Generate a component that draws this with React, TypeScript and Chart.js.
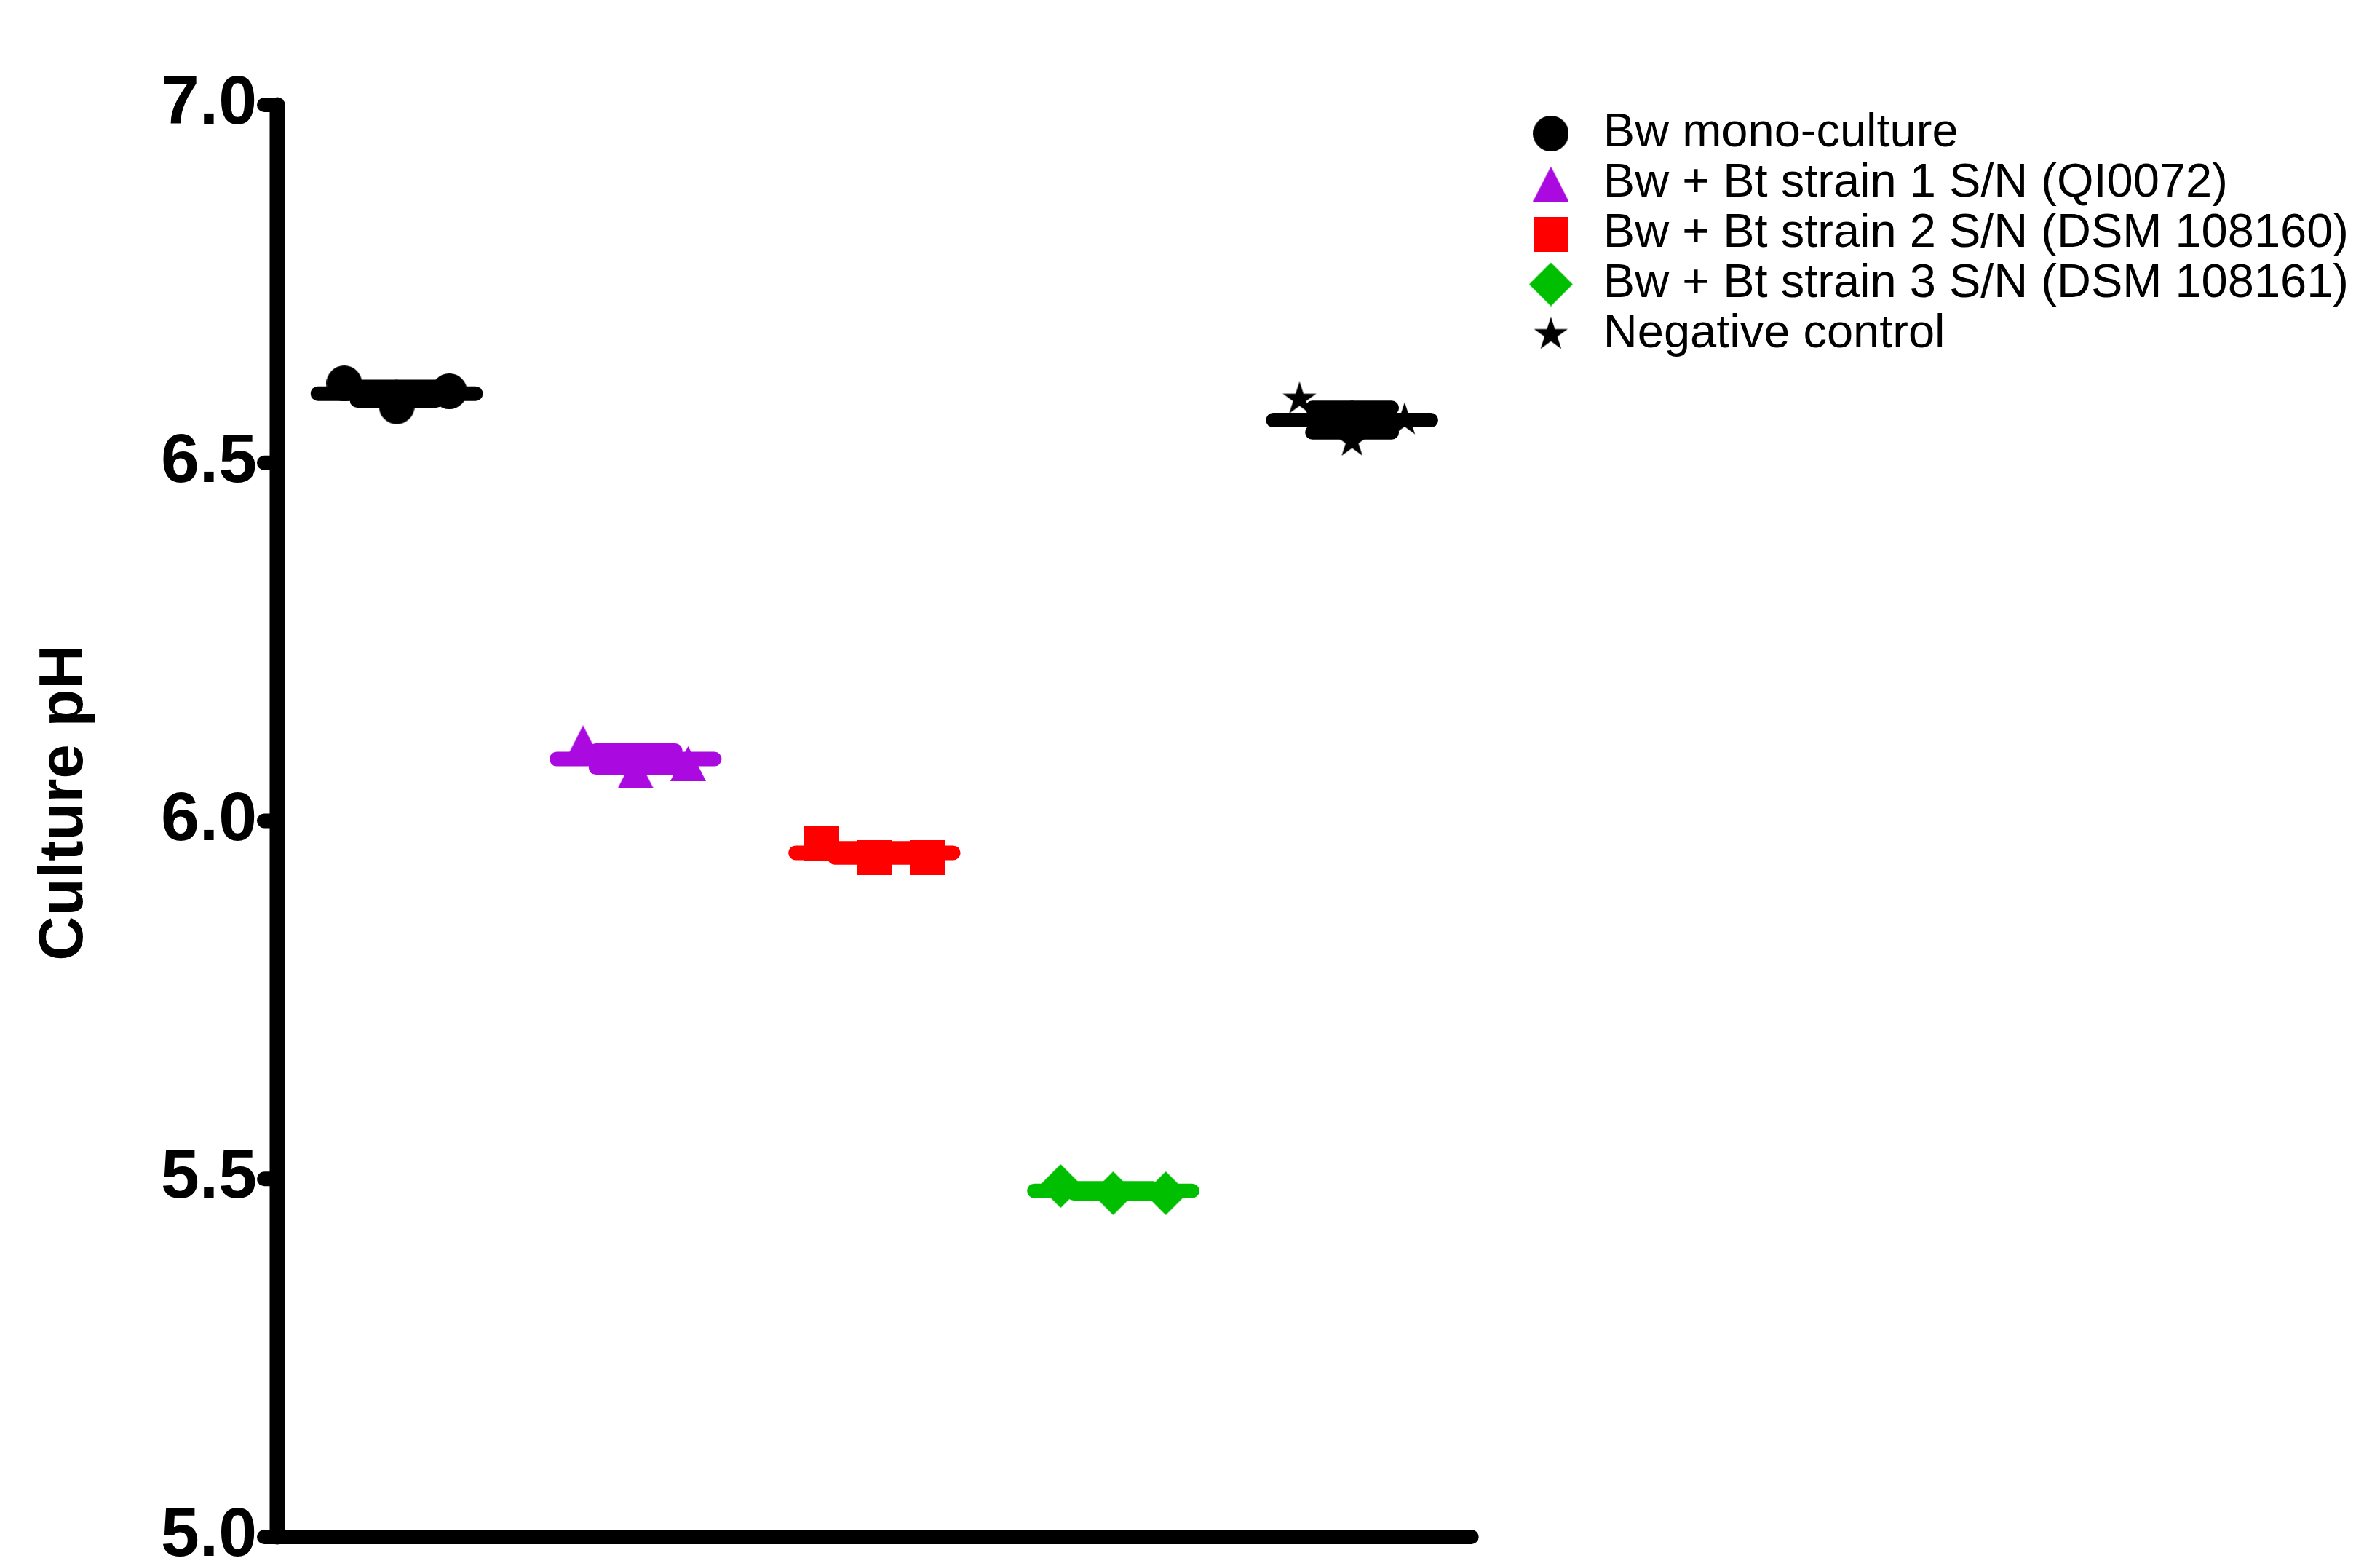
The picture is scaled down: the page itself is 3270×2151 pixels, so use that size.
import React, { useEffect, useRef } from 'react';
import { Chart, registerables } from 'chart.js';

Chart.register(...registerables);

// ---- data ----
const groupNames = [
  'Bw mono-culture',
  'Bw + Bt strain 1 S/N (QI0072)',
  'Bw + Bt strain 2 S/N (DSM 108160)',
  'Bw + Bt strain 3 S/N (DSM 108161)',
  'Negative control',
];
const groupX = [1, 2, 3, 4, 5];
const replicateOffsets = [-0.22, 0, 0.22];
const bwMono = [6.611, 6.579, 6.6];
const bwStrain1 = [6.109, 6.07, 6.08];
const bwStrain2 = [5.968, 5.949, 5.949];
const bwStrain3 = [5.49, 5.48, 5.48];
const negativeControl = [6.589, 6.53, 6.56];
const yTickValues = [5.0, 5.5, 6.0, 6.5, 7.0];
const yTickLabels = ['5.0', '5.5', '6.0', '6.5', '7.0'];
const yAxisTitle = 'Culture pH';

// ---- styles ----
const groupColors = ['#000000', '#AA0AE0', '#FF0000', '#00BF00', '#000000'];
const markerShapes = ['circle', 'triangle', 'square', 'diamond', 'star'];
const meanHalfWidth = 0.33;
const capHalfWidth = 0.166;
const xMin = 0.5;
const xMax = 5.7;
const xAxisEnd = 5.5;
const FONT = "'Liberation Sans', Arial, sans-serif";

function makeMarker(shape: string, color: string): HTMLCanvasElement {
  const c = document.createElement('canvas');
  let w = 49, h = 49;
  if (shape === 'triangle') { w = 49; h = 48; }
  if (shape === 'square') { w = 48; h = 48; }
  if (shape === 'diamond') { w = 60; h = 60; }
  if (shape === 'star') { w = 50; h = 50; }
  c.width = w; c.height = h;
  const ctx = c.getContext('2d')!;
  ctx.fillStyle = color;
  ctx.beginPath();
  if (shape === 'circle') {
    ctx.arc(w / 2, h / 2, 24.5, 0, Math.PI * 2);
  } else if (shape === 'triangle') {
    ctx.moveTo(w / 2, 0); ctx.lineTo(w, h); ctx.lineTo(0, h); ctx.closePath();
  } else if (shape === 'square') {
    ctx.rect(0, 0, w, h);
  } else if (shape === 'diamond') {
    ctx.moveTo(w / 2, 0); ctx.lineTo(w, h / 2); ctx.lineTo(w / 2, h); ctx.lineTo(0, h / 2); ctx.closePath();
  } else if (shape === 'star') {
    const R = 24.3, r = R * 0.382, cx = w / 2, cy = h / 2;
    for (let i = 0; i < 10; i++) {
      const rad = i % 2 === 0 ? R : r;
      const a = -Math.PI / 2 + (i * Math.PI) / 5;
      const px = cx + rad * Math.cos(a), py = cy + rad * Math.sin(a);
      if (i === 0) ctx.moveTo(px, py); else ctx.lineTo(px, py);
    }
    ctx.closePath();
  }
  ctx.fill();
  return c;
}

const axesPlugin = {
  id: 'prismAxes',
  beforeDatasetsDraw(chart: any) {
    const { ctx, chartArea } = chart;
    const xs = chart.scales.x;
    const ys = chart.scales.y;
    const left = chartArea.left;
    const top = ys.getPixelForValue(ys.max);
    const bottom = ys.getPixelForValue(ys.min);
    const xEnd = xs.getPixelForValue(xAxisEnd);
    ctx.save();
    ctx.strokeStyle = '#000';
    ctx.lineCap = 'round';
    ctx.lineWidth = 21;
    ctx.beginPath(); ctx.moveTo(left, top); ctx.lineTo(left, bottom); ctx.stroke();
    ctx.lineWidth = 20;
    ctx.beginPath(); ctx.moveTo(left, bottom); ctx.lineTo(xEnd, bottom); ctx.stroke();
    ys.ticks.forEach((t: any) => {
      const py = ys.getPixelForValue(t.value);
      ctx.beginPath(); ctx.moveTo(left - 18, py); ctx.lineTo(left, py); ctx.stroke();
    });
    ctx.restore();
  },
  afterDraw(chart: any) {
    const { ctx, chartArea } = chart;
    const cy = (chartArea.top + chartArea.bottom) / 2 - 25;
    ctx.save();
    ctx.translate(90, cy);
    ctx.rotate(-Math.PI / 2);
    ctx.fillStyle = '#000';
    ctx.font = `bold 85px ${FONT}`;
    ctx.textAlign = 'center';
    ctx.textBaseline = 'middle';
    ctx.fillText(yAxisTitle, 0, 0);
    ctx.restore();
  },
};

export default function App() {
  const ref = useRef<HTMLCanvasElement>(null);
  useEffect(() => {
    document.body.style.margin = '0';
    const canvas = ref.current!;
    const seriesValues = [bwMono, bwStrain1, bwStrain2, bwStrain3, negativeControl];
    const datasets: any[] = [];
    seriesValues.forEach((vals, g) => {
      datasets.push({
        label: groupNames[g],
        data: vals.map((v, i) => ({ x: groupX[g] + replicateOffsets[i], y: v })),
        pointStyle: makeMarker(markerShapes[g], groupColors[g]),
        pointRadius: 25,
        pointHoverRadius: 25,
        backgroundColor: groupColors[g],
        borderColor: groupColors[g],
        showLine: false,
      });
    });
    seriesValues.forEach((vals, g) => {
      const n = vals.length;
      const mean = vals.reduce((a, b) => a + b, 0) / n;
      const sd = Math.sqrt(vals.reduce((a, b) => a + (b - mean) ** 2, 0) / (n - 1));
      const sem = sd / Math.sqrt(n);
      const x0 = groupX[g];
      const segs = [
        [[x0 - meanHalfWidth, mean], [x0 + meanHalfWidth, mean]],
        [[x0 - capHalfWidth, mean + sem], [x0 + capHalfWidth, mean + sem]],
        [[x0 - capHalfWidth, mean - sem], [x0 + capHalfWidth, mean - sem]],
        [[x0, mean - sem], [x0, mean + sem]],
      ];
      segs.forEach((seg) =>
        datasets.push({
          label: '',
          isSummary: true,
          data: seg.map(([x, y]) => ({ x, y })),
          showLine: true,
          borderColor: groupColors[g],
          backgroundColor: groupColors[g],
          borderWidth: 20,
          borderCapStyle: 'round',
          pointRadius: 0,
          pointHoverRadius: 0,
          fill: false,
        })
      );
    });

    const chart = new Chart(canvas, {
      type: 'scatter',
      data: { datasets },
      plugins: [axesPlugin],
      options: {
        animation: false,
        responsive: false,
        devicePixelRatio: 1,
        layout: { padding: { top: 144, right: 33, bottom: 40, left: 0 } },
        plugins: {
          tooltip: { enabled: false },
          legend: {
            position: 'right',
            align: 'start',
            maxWidth: 1300,
            title: { display: true, text: '', font: { size: 1, lineHeight: 1 }, padding: { top: 2, bottom: 0 } },
            labels: {
              usePointStyle: true,
              pointStyleWidth: 79,
              padding: 4,
              color: '#000',
              font: { size: 65, family: FONT },
              filter: (item: any, data: any) => !data.datasets[item.datasetIndex].isSummary,
            },
          },
        },
        scales: {
          x: {
            type: 'linear',
            display: false,
            min: xMin,
            max: xMax,
          },
          y: {
            type: 'linear',
            min: 5,
            max: 7,
            afterFit: (s: any) => { s.width = 381; },
            afterBuildTicks: (s: any) => { s.ticks = yTickValues.map((v) => ({ value: v })); },
            border: { display: false },
            grid: { display: true, color: 'rgba(0,0,0,0)', drawOnChartArea: false, drawTicks: true, tickLength: 28 },
            ticks: {
              padding: 0,
              color: '#000',
              font: { size: 95, weight: 'bold', family: FONT, lineHeight: 0.8 },
              callback: (v: any) => {
                const i = yTickValues.indexOf(Number(v));
                return i >= 0 ? yTickLabels[i] : '';
              },
            },
            title: { display: false },
          },
        },
      } as any,
    });
    return () => chart.destroy();
  }, []);
  return (
    <div style={{ width: 3270, height: 2151 }}>
      <canvas ref={ref} width={3270} height={2151} style={{ display: 'block' }} />
    </div>
  );
}
